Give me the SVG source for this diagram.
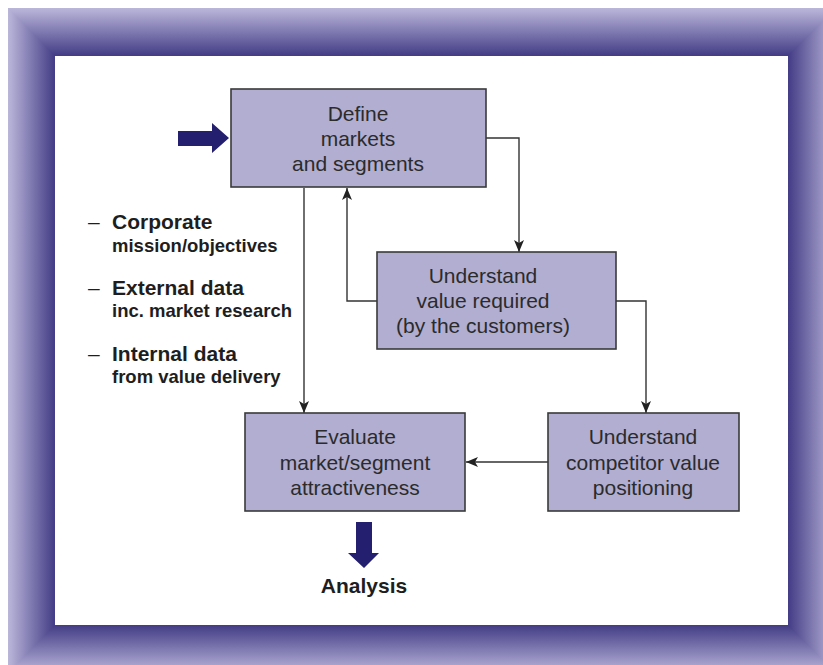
<svg xmlns="http://www.w3.org/2000/svg" width="823" height="665" viewBox="0 0 823 665">
<style>
.box{fill:#b1aed1;stroke:#3a3a3a;stroke-width:1.6}
.bt{font-family:"Liberation Sans",Arial,sans-serif;font-size:21px;fill:#2b2b2b;text-anchor:middle}
.lh{font-family:"Liberation Sans",Arial,sans-serif;font-size:21px;font-weight:bold;fill:#1e1e1e}
.ls{font-family:"Liberation Sans",Arial,sans-serif;font-size:18.5px;font-weight:bold;fill:#1e1e1e}
.dash{font-family:"Liberation Sans",Arial,sans-serif;font-size:21px;fill:#1e1e1e}
.conn{fill:none;stroke:#333;stroke-width:1.4}
.big{fill:#241f6e}
</style>
<defs>
<linearGradient id="gL" gradientUnits="userSpaceOnUse" x1="8" y1="0" x2="55" y2="0"><stop offset="0" stop-color="#bbb7da"/><stop offset="1" stop-color="#433c86"/></linearGradient>
<linearGradient id="gT" gradientUnits="userSpaceOnUse" x1="0" y1="8" x2="0" y2="56"><stop offset="0" stop-color="#bbb7da"/><stop offset="1" stop-color="#433c86"/></linearGradient>
<linearGradient id="gR" gradientUnits="userSpaceOnUse" x1="836" y1="0" x2="788" y2="0"><stop offset="0" stop-color="#bbb7da"/><stop offset="1" stop-color="#433c86"/></linearGradient>
<linearGradient id="gB" gradientUnits="userSpaceOnUse" x1="0" y1="673" x2="0" y2="625"><stop offset="0" stop-color="#bbb7da"/><stop offset="1" stop-color="#433c86"/></linearGradient>
<marker id="ah" viewBox="0 0 12 10" refX="12" refY="5" markerWidth="12" markerHeight="10" markerUnits="userSpaceOnUse" orient="auto"><path d="M0,0 L12,5 L0,10 L3,5 Z" fill="#222"/></marker>
</defs>
<rect x="0" y="0" width="823" height="665" fill="#ffffff"/>
<g id="frame">
<rect x="8" y="8" width="828" height="48" fill="url(#gT)"/>
<rect x="8" y="625" width="828" height="48" fill="url(#gB)"/>
<polygon points="8,8 55,56 55,625 8,673" fill="url(#gL)"/>
<polygon points="836,8 836,673 788,625 788,56" fill="url(#gR)"/>
</g>
<g id="connectors">
<path class="conn" d="M486,138 H519 V252" marker-end="url(#ah)"/>
<path class="conn" d="M377,301 H347 V188" marker-end="url(#ah)"/>
<path class="conn" d="M616,301 H646 V413" marker-end="url(#ah)"/>
<path class="conn" d="M304,188 V413" marker-end="url(#ah)"/>
<path class="conn" d="M548,462 H466" marker-end="url(#ah)"/>
</g>
<g id="define">
<rect class="box" x="231" y="89" width="255" height="98"/>
<text class="bt" x="358" y="121">Define</text>
<text class="bt" x="358" y="146">markets</text>
<text class="bt" x="358" y="171">and segments</text>
</g>
<g id="value">
<rect class="box" x="377" y="252" width="239" height="97"/>
<text class="bt" x="483" y="283">Understand</text>
<text class="bt" x="483" y="308">value required</text>
<text class="bt" x="483" y="333">(by the customers)</text>
</g>
<g id="evaluate">
<rect class="box" x="245" y="413" width="220" height="98"/>
<text class="bt" x="355" y="444">Evaluate</text>
<text class="bt" x="355" y="470">market/segment</text>
<text class="bt" x="355" y="495">attractiveness</text>
</g>
<g id="competitor">
<rect class="box" x="548" y="413" width="191" height="98"/>
<text class="bt" x="643" y="444">Understand</text>
<text class="bt" x="643" y="470">competitor value</text>
<text class="bt" x="643" y="495">positioning</text>
</g>
<g id="inputs">
<text class="dash" x="88" y="229">–</text>
<text class="lh" x="112" y="229">Corporate</text>
<text class="ls" x="112" y="252">mission/objectives</text>
<text class="dash" x="88" y="295">–</text>
<text class="lh" x="112" y="295">External data</text>
<text class="ls" x="112" y="317">inc. market research</text>
<text class="dash" x="88" y="361">–</text>
<text class="lh" x="112" y="361">Internal data</text>
<text class="ls" x="112" y="383">from value delivery</text>
</g>
<g id="in-arrow">
<polygon class="big" points="178,131 212,131 212,123 229,138 212,153 212,146 178,146"/>
</g>
<g id="analysis">
<polygon class="big" points="356,522 372,522 372,553 379,553 364,568 348,553 356,553"/>
<text x="364" y="593" font-family="'Liberation Sans',Arial,sans-serif" font-size="21" font-weight="bold" fill="#1e1e1e" text-anchor="middle">Analysis</text>
</g>
</svg>
